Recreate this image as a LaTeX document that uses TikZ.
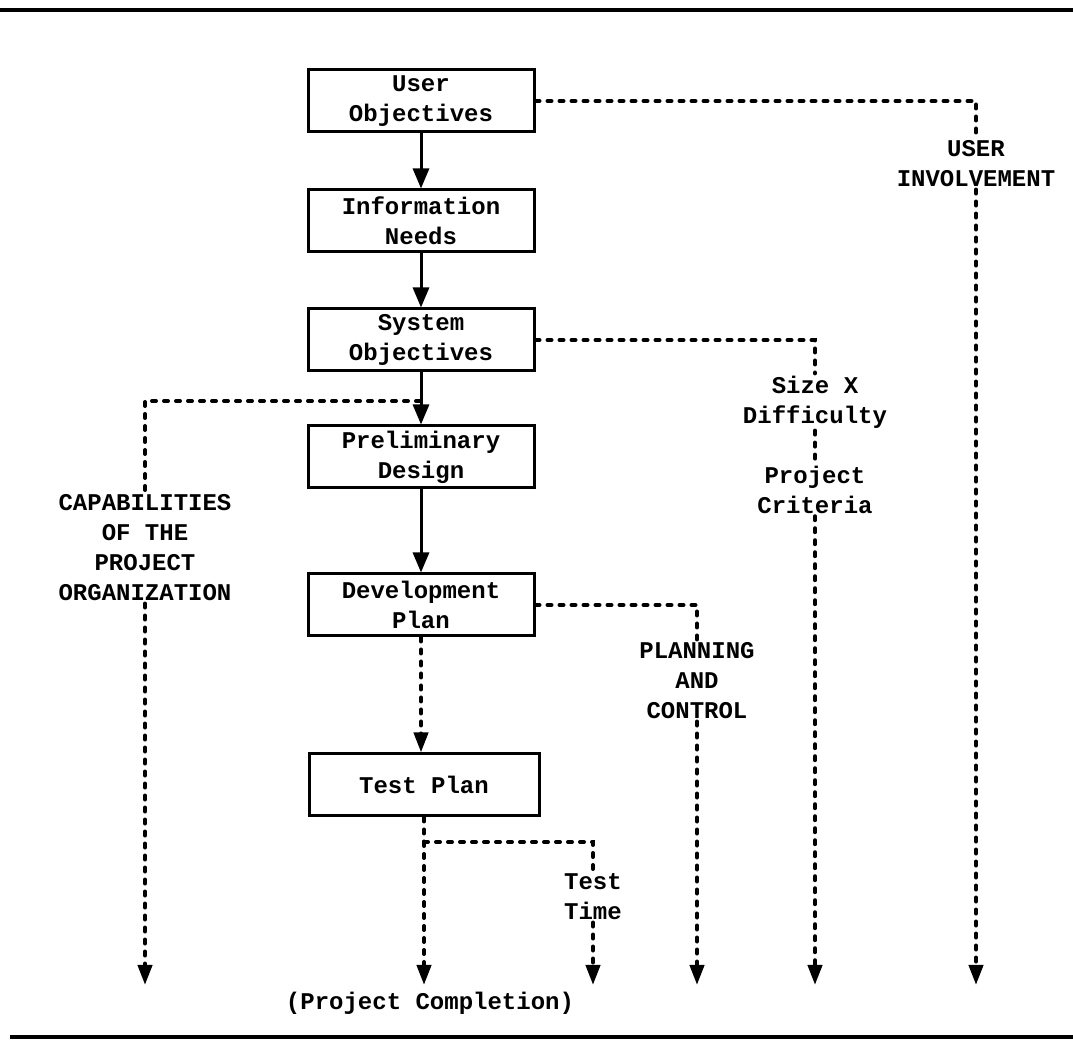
\documentclass[tikz,border=0pt]{standalone}
\usepackage{fontspec}
\setmonofont{Liberation Mono}
\usetikzlibrary{arrows.meta}

\begin{document}
\begin{tikzpicture}[x=0.5pt, y=-0.5pt,
    every node/.style={font=\ttfamily\bfseries\fontsize{12}{15}\selectfont, align=center, inner sep=1pt},
    box/.style={draw, line width=1.5pt, minimum width=113pt, minimum height=31pt, inner sep=2pt},
    flow/.style={line width=1.5pt, -{Triangle[length=10pt,width=8pt]}},
    tie/.style={line width=2pt, line cap=round, dash pattern=on 2pt off 4pt},
    tiearrow/.style={tie, -{Triangle[length=10pt,width=7pt]}}]
            \useasboundingbox (0,0) rectangle (1073,1042);
            % page rules
            \draw[line width=2pt] (0,10) -- (1073,10);
            \draw[line width=2pt] (10,1037) -- (1073,1037);
            % main column of steps
            \node[box] (uo) at (421,101) {User\\Objectives};
            \node[box] (need) at (421,221) {Information\\Needs};
            \node[box] (sysobj) at (421,340) {System\\Objectives};
            \node[box] (prelim) at (421,457) {Preliminary\\Design};
            \node[box] (devplan) at (421,605) {Development\\Plan};
            \node[box, minimum width=115pt] (testplan) at (424,785) {Test Plan};
            % side labels
            \node (userinv) at (976,164) {USER\\INVOLVEMENT};
            \node (sizediff) at (815,402) {Size X\\Difficulty};
            \node (projcrit) at (815,490) {Project\\Criteria};
            \node (capab) at (145,548) {CAPABILITIES\\OF THE\\PROJECT\\ORGANIZATION};
            \node (planctl) at (697,681) {PLANNING\\AND\\CONTROL};
            \node (testtime) at (593,897) {Test\\Time};
            \node (compl) at (430,1003) {(Project Completion)};
            % split and end points
            \coordinate (capsplit) at (420,401);
            \coordinate (ttsplit) at (424,842);
            \coordinate (done) at (424,985);
            \coordinate (bottom) at (0,985);
            % solid flow
            \draw[flow] (uo) -- (need);
            \draw[flow] (need) -- (sysobj);
            \draw[flow] (sysobj) -- (prelim);
            \draw[flow] (prelim) -- (devplan);
            % dashed flow
            \draw[tiearrow] (devplan.south) -- (devplan.south |- testplan.north);
            \draw[tiearrow] (testplan.south |- ttsplit) -- (done);
            \draw[tie] (testplan.south) -- (ttsplit);
            \draw[tie] (ttsplit) -| (testtime.north);
            \draw[tiearrow] (testtime.south) -- (testtime.south |- bottom);
            % capabilities branch
            \draw[tie] (capsplit) -| (capab.north);
            \draw[tiearrow] (capab.south) -- (capab.south |- bottom);
            % right branches
            \draw[tie] (uo.east) -| (userinv.north);
            \draw[tiearrow] (userinv.south) -- (userinv.south |- bottom);
            \draw[tie] (sysobj.east) -| (sizediff.north);
            \draw[tie] (sizediff.south) -- (projcrit.north);
            \draw[tiearrow] (projcrit.south) -- (projcrit.south |- bottom);
            \draw[tie] (devplan.east) -| (planctl.north);
            \draw[tiearrow] (planctl.south) -- (planctl.south |- bottom);
\end{tikzpicture}
\end{document}
